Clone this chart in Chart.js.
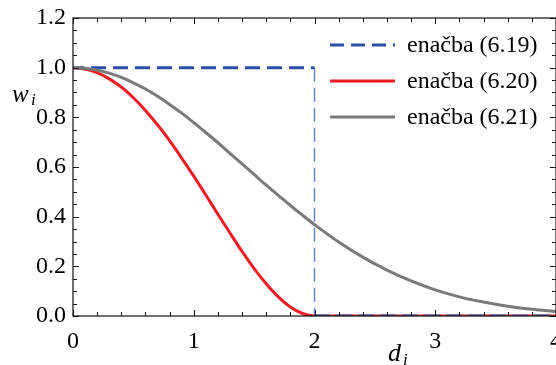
<!DOCTYPE html>
<html>
<head>
<meta charset="utf-8">
<script src="https://cdn.jsdelivr.net/npm/chart.js@4.4.0/dist/chart.umd.min.js"></script>
<style>
  html, body { margin: 0; padding: 0; background: #fff; }
  #wrap { width: 556px; height: 365px; }
</style>
</head>
<body>
<div id="wrap"><canvas id="chartUtezi"></canvas></div>
<script>
// podatki, odčitani s slike
const seriesLabels = ['enačba (6.19)', 'enačba (6.20)', 'enačba (6.21)'];

// enačba (6.19) - stopnica
const dStep = [0, 2, 2, 4];
const wStep = [1, 1, 0, 0];

// enačba (6.20)
const dRed = [0, 0.1, 0.2, 0.3, 0.4, 0.5, 0.6, 0.7, 0.8, 0.9, 1.0, 1.1, 1.2, 1.3, 1.4, 1.5, 1.6, 1.7, 1.8, 1.9, 2.0, 2.5, 3.0, 3.5, 4.0];
const wRed = [1.0, 0.995, 0.98, 0.955, 0.922, 0.879, 0.828, 0.77, 0.706, 0.636, 0.563, 0.487, 0.41, 0.334, 0.26, 0.191, 0.13, 0.077, 0.036, 0.01, 0.0, 0.0, 0.0, 0.0, 0.0];

// enačba (6.21)
const dGray = [0, 0.1, 0.2, 0.3, 0.4, 0.5, 0.6, 0.7, 0.8, 0.9, 1.0, 1.1, 1.2, 1.3, 1.4, 1.5, 1.6, 1.7, 1.8, 1.9, 2.0, 2.2, 2.4, 2.6, 2.8, 3.0, 3.2, 3.4, 3.6, 3.8, 4.0];
const wGray = [1.0, 0.998, 0.99, 0.978, 0.961, 0.939, 0.914, 0.885, 0.852, 0.817, 0.779, 0.739, 0.698, 0.655, 0.613, 0.57, 0.527, 0.486, 0.445, 0.406, 0.368, 0.298, 0.237, 0.185, 0.141, 0.105, 0.077, 0.056, 0.039, 0.027, 0.018];

const xMajor = [0, 1, 2, 3, 4];
const yMajor = [0, 0.2, 0.4, 0.6, 0.8, 1.0, 1.2];

const BLUE = '#2b4ea6';
const BLUE_LIGHT = 'rgba(70,105,185,0.8)';
const RED = '#ee1c24';
const GRAY = '#7a7a7a';
const SERIF = '"Liberation Serif", "Times New Roman", serif';

function pts(xs, ys) {
    return xs.map((x, i) => ({ x: x, y: ys[i] }));
}

// okvir, kljukice, naslovi osi in legenda
const okvirPlugin = {
    id: 'okvir',
    afterDatasetsDraw(chart) {
        const ctx = chart.ctx;
        const a = chart.chartArea;
        const sx = chart.scales.x, sy = chart.scales.y;
        ctx.save();
        ctx.strokeStyle = '#111';
        ctx.lineWidth = 1.2;
        ctx.setLineDash([]);
        ctx.strokeRect(a.left, a.top, a.right - a.left, a.bottom - a.top);

        ctx.lineWidth = 1;
        ctx.beginPath();
        for (let v = 0; v <= 4.0001; v += 0.2) {
            const px = Math.round(sx.getPixelForValue(v)) + 0.5;
            const major = Math.abs(v - Math.round(v)) < 1e-6;
            const len = major ? 6 : 4;
            ctx.moveTo(px, a.bottom); ctx.lineTo(px, a.bottom - len);
            ctx.moveTo(px, a.top); ctx.lineTo(px, a.top + len);
        }
        for (let v = 0; v <= 1.2001; v += 0.05) {
            const py = Math.round(sy.getPixelForValue(v)) + 0.5;
            const major = Math.abs(v * 5 - Math.round(v * 5)) < 1e-6;
            const len = major ? 6 : 4;
            ctx.moveTo(a.left, py); ctx.lineTo(a.left + len, py);
            ctx.moveTo(a.right, py); ctx.lineTo(a.right - len, py);
        }
        ctx.stroke();

        // naslovi osi
        ctx.fillStyle = '#000';
        ctx.textBaseline = 'alphabetic';
        ctx.textAlign = 'left';
        ctx.font = 'italic 25px ' + SERIF;
        ctx.fillText('w', 12, 102);
        ctx.font = 'italic 17px ' + SERIF;
        ctx.fillText('i', 31, 105);
        ctx.font = 'italic 26px ' + SERIF;
        ctx.fillText('d', 388, 361);
        ctx.font = 'italic 17px ' + SERIF;
        ctx.fillText('i', 403, 365);

        // legenda
        const items = [
            { color: BLUE, dash: [14, 7] },
            { color: RED, dash: [] },
            { color: GRAY, dash: [] }
        ];
        items.forEach((it, i) => {
            const y = 45 + i * 36;
            ctx.strokeStyle = it.color;
            ctx.lineWidth = 3;
            ctx.setLineDash(it.dash);
            ctx.beginPath();
            ctx.moveTo(330, y); ctx.lineTo(395, y);
            ctx.stroke();
            ctx.setLineDash([]);
            ctx.font = '24px ' + SERIF;
            ctx.textBaseline = 'middle';
            ctx.fillStyle = '#000';
            ctx.fillText(seriesLabels[i], 407, y + 1);
        });
        ctx.restore();
    }
};

const vertikala = c => c.p0.parsed.x === c.p1.parsed.x;

new Chart(document.getElementById('chartUtezi'), {
    type: 'line',
    data: {
        datasets: [
            {
                label: seriesLabels[0],
                data: pts(dStep, wStep),
                order: 1,
                borderColor: BLUE,
                borderWidth: 3,
                borderDash: [15, 7],
                borderDashOffset: 4,
                pointRadius: 0,
                tension: 0,
                segment: {
                    borderWidth: c => (vertikala(c) ? 1.5 : 3),
                    borderColor: c => (vertikala(c) ? BLUE_LIGHT : BLUE),
                    borderDash: c => (vertikala(c) ? [14, 6] : [15, 7]),
                    borderDashOffset: c => (vertikala(c) ? 0 : (c.p0.parsed.x === 0 ? 4 : 0))
                }
            },
            {
                label: seriesLabels[1],
                data: pts(dRed, wRed),
                order: 2,
                borderColor: RED,
                borderWidth: 3,
                pointRadius: 0,
                cubicInterpolationMode: 'monotone'
            },
            {
                label: seriesLabels[2],
                data: pts(dGray, wGray),
                order: 0,
                borderColor: GRAY,
                borderWidth: 3,
                pointRadius: 0,
                cubicInterpolationMode: 'monotone'
            }
        ]
    },
    options: {
        responsive: true,
        maintainAspectRatio: false,
        animation: false,
        layout: { padding: { top: 18, right: 0, left: 0, bottom: 0 } },
        plugins: {
            legend: { display: false },
            tooltip: { enabled: false }
        },
        scales: {
            x: {
                type: 'linear',
                min: 0,
                max: 4,
                afterBuildTicks: s => { s.ticks = xMajor.map(v => ({ value: v })); },
                afterFit: s => { s.height = 49; s.paddingLeft = 0; s.paddingRight = 0; },
                ticks: {
                    color: '#000',
                    font: { family: SERIF, size: 24 },
                    padding: 11,
                    maxRotation: 0,
                    callback: v => String(v)
                },
                grid: { display: false, drawTicks: false },
                border: { display: false }
            },
            y: {
                type: 'linear',
                min: 0,
                max: 1.2,
                afterBuildTicks: s => { s.ticks = yMajor.map(v => ({ value: v })); },
                afterFit: s => { s.width = 73; s.paddingTop = 0; s.paddingBottom = 0; },
                ticks: {
                    color: '#000',
                    font: { family: SERIF, size: 24 },
                    padding: 7,
                    callback: v => Number(v).toFixed(1)
                },
                grid: { display: false, drawTicks: false },
                border: { display: false }
            }
        }
    },
    plugins: [okvirPlugin]
});
</script>
</body>
</html>
